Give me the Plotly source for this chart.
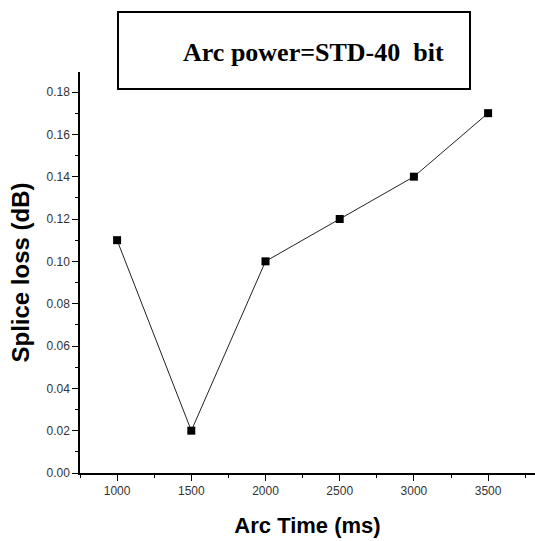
import plotly.graph_objects as go

arc_time = [1000, 1500, 2000, 2500, 3000, 3500]
splice_loss = [0.11, 0.02, 0.10, 0.12, 0.14, 0.17]
x_ticks = [1000, 1500, 2000, 2500, 3000, 3500]
y_ticks = [0.00, 0.02, 0.04, 0.06, 0.08, 0.10, 0.12, 0.14, 0.16, 0.18]

W, H = 535, 541
L, R, T, B = 80, 0, 72, 68
pw, ph = W - L - R, H - T - B

def px(x):
    return (x - L) / pw

def py(y):
    return (H - B - y) / ph

fig = go.Figure()
fig.add_trace(go.Scatter(
    x=arc_time, y=splice_loss, mode="lines+markers",
    line=dict(color="#222222", width=1),
    marker=dict(symbol="square", size=8, color="black"),
    showlegend=False,
))

axis_common = dict(
    showgrid=False, zeroline=False, showline=True, linecolor="black", linewidth=1.5,
    ticks="outside", ticklen=6, tickwidth=1, tickcolor="black",
    tickfont=dict(family="Arial, Liberation Sans", size=12, color="#333333"),
)

fig.update_xaxes(
    range=[750, 750 + pw / 148.4 * 1000], tickvals=x_ticks,
    ticktext=[str(v) for v in x_ticks],
    minor=dict(dtick=250, tick0=750, ticks="outside", ticklen=3, tickcolor="black"),
    title=dict(text="<b>Arc Time (ms)</b>", font=dict(family="Arial, Liberation Sans", size=22, color="black"), standoff=20),
    **axis_common,
)
fig.update_yaxes(
    range=[0, 0.18 * ph / 381], tickvals=y_ticks,
    ticktext=["%.2f" % v for v in y_ticks],
    minor=dict(dtick=0.01, tick0=0, ticks="outside", ticklen=3, tickcolor="black"),
    title=dict(text="<b>Splice loss (dB)</b>", font=dict(family="Arial, Liberation Sans", size=24, color="black"), standoff=10),
    **axis_common,
)

fig.add_shape(type="rect", xref="paper", yref="paper",
              x0=px(118), x1=px(470), y0=py(89), y1=py(12),
              line=dict(color="black", width=2), fillcolor="rgba(0,0,0,0)")
fig.add_annotation(xref="paper", yref="paper", x=px(313), y=py(52),
                   xanchor="center", yanchor="middle",
                   text="<b>Arc power=STD-40  bit</b>", showarrow=False,
                   font=dict(family="Liberation Serif, Times New Roman", size=26, color="black"))

fig.update_layout(
    width=W, height=H, margin=dict(l=L, r=R, t=T, b=B),
    paper_bgcolor="white", plot_bgcolor="white",
)
fig.write_html("out.html")
